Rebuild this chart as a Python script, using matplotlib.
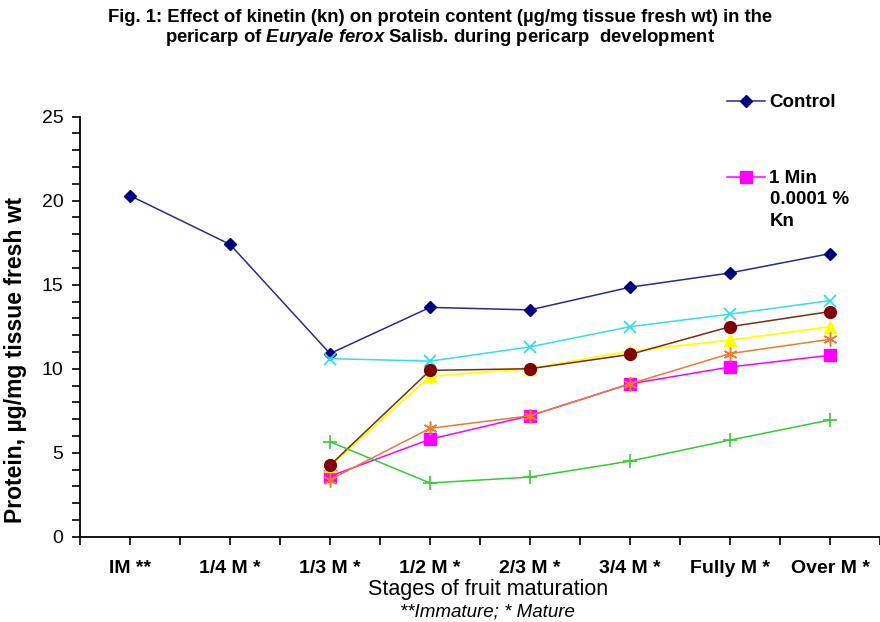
import matplotlib
matplotlib.use("Agg")
from matplotlib import pyplot as plt
from matplotlib.lines import Line2D

plt.rcParams['font.family'] = ['Liberation Sans', 'DejaVu Sans']
plt.rcParams['mathtext.fontset'] = 'custom'
plt.rcParams['mathtext.it'] = 'Liberation Sans:bold:italic'
plt.rcParams['mathtext.rm'] = 'Liberation Sans:bold'

# stages of fruit maturation
stadijos = ["IM **", "1/4 M *", "1/3 M *", "1/2 M *", "2/3 M *", "3/4 M *", "Fully M *", "Over M *"]
x_vis = list(range(8))
x_nuo3 = list(range(2, 8))

# protein, ug/mg tissue fresh wt
control = [20.3, 17.4, 10.9, 13.65, 13.5, 14.85, 15.7, 16.85]
min1 = [3.6, 5.8, 7.2, 9.1, 10.1, 10.8]        # 1 Min 0.0001 % Kn
geltona = [4.2, 9.55, 10.0, 11.05, 11.7, 12.5]
zydra = [10.6, 10.45, 11.3, 12.5, 13.25, 14.05]
ruda = [4.25, 9.9, 10.0, 10.85, 12.5, 13.4]
oranzine = [3.4, 6.45, 7.2, 9.1, 10.9, 11.75]
zalia = [5.65, 3.2, 3.55, 4.5, 5.75, 6.95]

fig = plt.figure(figsize=(8.8, 6.22), dpi=100)
ax = fig.add_axes([80 / 880, 0.1371, 1 - 80 / 880, 0.8124 - 0.1371])

ax.plot(x_vis, control, color='#2A2A8A', lw=1.1, marker='D', ms=6.5,
        mfc='#000080', mec='#000080')
ax.plot(x_nuo3, min1, color='#FF00FF', lw=1.1, marker='s', ms=8.5,
        mfc='#FF00FF', mec='#FF00FF')
ax.plot(x_nuo3, geltona, color='#FFFF00', lw=1.3, marker='^', ms=8.5,
        mfc='#FFFF00', mec='#FFFF00')
ax.plot(x_nuo3, zydra, color='#33DDEE', lw=1.1, marker='x', ms=9, mew=1.3)
ax.plot(x_nuo3, ruda, color='#7B2A10', lw=1.1, marker='o', ms=8.5,
        mfc='#800000', mec='#800000')
ax.plot(x_nuo3, oranzine, color='#F07830', lw=1.1, marker=(6, 2, 0), ms=10, mew=1.1)
ax.plot(x_nuo3, zalia, color='#33CC33', lw=1.1, marker='+', ms=10, mew=1.2)

ax.set_xlim(-0.5, 7.5)
ax.set_ylim(0, 25)
ax.set_xticks(x_vis)
ax.set_xticklabels(stadijos, fontsize=14, fontweight='bold')
ax.set_xticks([i + 0.5 for i in range(-1, 8)], minor=True)
ax.set_yticks(range(0, 26, 5))
ax.set_yticks(range(0, 26), minor=True)
ax.tick_params(axis='x', which='both', direction='out', length=6, width=1.2, pad=11, color='black')
ax.tick_params(axis='y', which='both', direction='out', length=6, width=1.2, pad=6, labelsize=14)
for s in ['top', 'right']:
    ax.spines[s].set_visible(False)
for s in ['left', 'bottom']:
    ax.spines[s].set_linewidth(1.3)

ax.set_ylabel('Protein, µg/mg tissue fresh wt', fontsize=16.5, fontweight='bold')
ax.yaxis.set_label_coords(-0.066, 0.42)

fig.text(488 / 880, 1 - 590 / 622, 'Stages of fruit maturation', ha='center', va='center', fontsize=15.5)
fig.text(487 / 880, 1 - 612 / 622, '**Immature; * Mature', ha='center', va='center',
         fontsize=13.5, style='italic')

fig.text(0.5, 1 - 18 / 622,
         'Fig. 1: Effect of kinetin (kn) on protein content (µg/mg tissue fresh wt) in the',
         ha='center', va='center', fontsize=13.3, fontweight='bold')
fig.text(0.5, 1 - 37 / 622,
         r'pericarp of $\mathit{Euryale\ ferox}$ Salisb. during pericarp  development',
         ha='center', va='center', fontsize=13.3, fontweight='bold')

# legenda
h1 = Line2D([], [], color='#2A2A8A', lw=1.1, marker='D', ms=6.5, mfc='#000080', mec='#000080')
h2 = Line2D([], [], color='#FF00FF', lw=1.1, marker='s', ms=8.5)
fig.legend([h1, h2], ['Control', '1 Min'], loc='upper left',
           bbox_to_anchor=(727 / 880, 1 - 94 / 622), frameon=False,
           prop={'weight': 'bold', 'size': 13.5}, handlelength=2.0,
           handletextpad=0.25, labelspacing=3.15, borderpad=0, borderaxespad=0)
fig.text(770 / 880, 1 - 200 / 622, '0.0001 %', ha='left', va='center',
         fontsize=13.5, fontweight='bold')
fig.text(770 / 880, 1 - 222 / 622, 'Kn', ha='left', va='center',
         fontsize=13.5, fontweight='bold')

fig.savefig('out.png', dpi=100)
